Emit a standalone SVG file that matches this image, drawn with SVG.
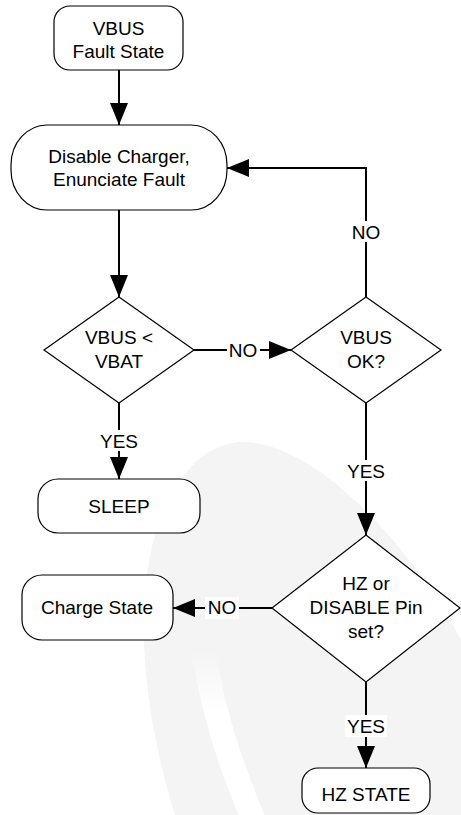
<svg xmlns="http://www.w3.org/2000/svg" width="461" height="815" viewBox="0 0 461 815">
<style>
text{font-family:"Liberation Sans",Arial,sans-serif;font-size:19px;fill:#000;text-anchor:middle}
.node{fill:#fff;stroke:#000;stroke-width:1.2}
.conn{fill:none;stroke:#000;stroke-width:2}
.lblbg{fill:#fff}
</style>
<defs>
<marker id="arr" markerUnits="userSpaceOnUse" markerWidth="22" markerHeight="18" refX="22" refY="9" orient="auto">
<path d="M0,0 L22,9 L0,18 z" fill="#000"/>
</marker>
<linearGradient id="fade" x1="0" y1="0" x2="0" y2="1">
<stop offset="0" stop-color="#fff" stop-opacity="0"/>
<stop offset="0.35" stop-color="#fff" stop-opacity="1"/>
<stop offset="1" stop-color="#fff" stop-opacity="1"/>
</linearGradient>
</defs>
<rect width="461" height="815" fill="#fff"/>
<g id="watermark">
<path d="M175,815 C145,720 130,600 160,520 C180,470 205,445 240,442 C320,440 420,560 461,640 L461,815 Z" fill="#f4f4f4"/>
<path d="M203,650 C215,720 232,770 258,830" fill="none" stroke="url(#fade)" stroke-width="24"/>
</g>
<g id="connectors">
<line class="conn" x1="119" y1="70" x2="119" y2="125" marker-end="url(#arr)"/>
<line class="conn" x1="119" y1="210" x2="119" y2="297" marker-end="url(#arr)"/>
<line class="conn" x1="194" y1="350" x2="291" y2="350" marker-end="url(#arr)"/>
<polyline class="conn" points="366,297 366,168 227,168" marker-end="url(#arr)"/>
<line class="conn" x1="119" y1="403" x2="119" y2="479" marker-end="url(#arr)"/>
<line class="conn" x1="366" y1="403" x2="366" y2="535" marker-end="url(#arr)"/>
<line class="conn" x1="272" y1="608" x2="173" y2="608" marker-end="url(#arr)"/>
<line class="conn" x1="366" y1="682" x2="366" y2="768" marker-end="url(#arr)"/>
<rect class="lblbg" x="227" y="339" width="33" height="21"/>
<text x="243" y="357">NO</text>
<rect class="lblbg" x="350" y="221" width="33" height="21"/>
<text x="366" y="239">NO</text>
<rect class="lblbg" x="98" y="430" width="42" height="21"/>
<text x="119" y="448">YES</text>
<rect class="lblbg" x="345" y="460" width="42" height="21"/>
<text x="366" y="478">YES</text>
<rect class="lblbg" x="205" y="597" width="34" height="22"/>
<text x="222" y="614">NO</text>
<rect class="lblbg" x="345" y="715" width="42" height="22"/>
<text x="366" y="733">YES</text>
</g>
<g id="vbus-fault">
<rect class="node" x="54" y="6" width="129" height="64" rx="16"/>
<text x="118.5" y="35">VBUS</text>
<text x="118.5" y="58">Fault State</text>
</g>
<g id="disable-charger">
<rect class="node" x="11" y="125" width="216" height="85" rx="36" ry="40"/>
<text x="119" y="163">Disable Charger,</text>
<text x="119" y="186">Enunciate Fault</text>
</g>
<g id="vbus-lt-vbat">
<polygon class="node" points="119,297 194,350 119,403 44,350"/>
<text x="119" y="344">VBUS &lt;</text>
<text x="119" y="368">VBAT</text>
</g>
<g id="vbus-ok">
<polygon class="node" points="366,297 441,350 366,403 291,350"/>
<text x="366" y="344">VBUS</text>
<text x="366" y="368">OK?</text>
</g>
<g id="sleep">
<rect class="node" x="38" y="479" width="162" height="54" rx="20"/>
<text x="119" y="513">SLEEP</text>
</g>
<g id="hz-disable">
<polygon class="node" points="366,535 460,608 366,682 272,608"/>
<text x="366" y="590">HZ or</text>
<text x="366" y="614">DISABLE Pin</text>
<text x="366" y="638">set?</text>
</g>
<g id="charge-state">
<rect class="node" x="22" y="575" width="151" height="65" rx="20"/>
<text x="97" y="614">Charge State</text>
</g>
<g id="hz-state">
<rect class="node" x="302" y="768" width="128" height="45" rx="16"/>
<text x="366" y="801">HZ STATE</text>
</g>
</svg>
